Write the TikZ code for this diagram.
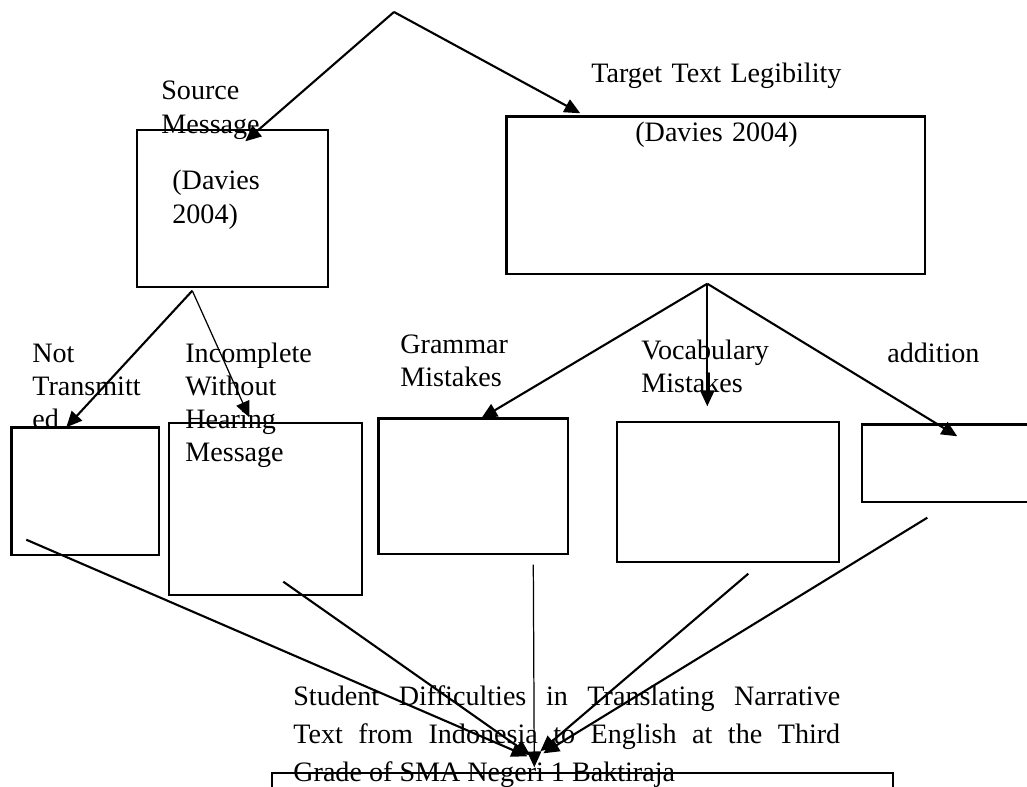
\documentclass[tikz,border=0pt]{standalone}
\usepackage{fontspec}
\setmainfont{Liberation Serif}
\usetikzlibrary{arrows.meta,fit,calc}
\begin{document}
\begin{tikzpicture}[x=0.02cm,y=-0.02cm,
  box/.style={draw,line width=0.8pt,inner sep=0pt,rectangle},
  heavyedge/.style={line width=1.7pt},
  conn/.style={line width=1.2pt,-{Triangle[length=9pt,width=8pt]}},
  thinconn/.style={line width=0.7pt,-{Triangle[length=9pt,width=8pt]}},
  lab/.style={inner sep=0pt,anchor=base west,align=left,text width=6cm,font=\fontsize{16}{18.8}\selectfont}]
\useasboundingbox (0,0) rectangle (1027,787);
\clip (0,0) rectangle (1027,787);

% boxes
\node[box,fit={(137,130)(328,287)}] (src) {};
\node[box,fit={(507,117)(925,274)}] (tgt) {};
\node[box,fit={(12,428)(159,555)}] (nt) {};
\node[box,fit={(169,423)(362,595)}] (inc) {};
\node[box,fit={(379,419)(568,554)}] (gram) {};
\node[box,fit={(617,422)(839,562)}] (voc) {};
\node[box,fit={(862,425)(1040,502)}] (add) {};
\node[box,fit={(272,773)(893,820)}] (bot) {};

% heavier (shadowed) edges
\draw[heavyedge] (tgt.south west) -- (tgt.north west) -- (tgt.north east);
\draw[heavyedge] (nt.south west) -- (nt.north west) -- (nt.north east);
\draw[heavyedge] (gram.south west) -- (gram.north west) -- (gram.north east);
\draw[heavyedge] (add.north west) -- (add.north east);

% labels
\node[lab] (srclab) at (161,100) {Source\\Message};
\node[lab] (srccite) at (172,190) {(Davies\\2004)};
\node[lab] (tgtlab) at (591,83) {Target Text Legibility};
\node[lab] (tgtcite) at (635,142) {(Davies 2004)};
\node[lab] (ntlab) at (32,362) {Not\\Transmitt\\ed};
\node[lab] (inclab) at (185,362) {Incomplete\\Without\\Hearing\\Message};
\node[lab] (gramlab) at (400,353) {Grammar\\Mistakes};
\node[lab] (voclab) at (641,359) {Vocabulary\\Mistakes};
\node[lab] (addlab) at (887,362) {addition};
\node[lab,text width=10.94cm,align=justify,font=\fontsize{16}{21.9}\selectfont] (botlab) at (293,705)
  {Student Difficulties in Translating Narrative\linebreak Text from Indonesia to English at the Third\linebreak Grade of SMA Negeri 1 Baktiraja};

% connection points
\coordinate (top) at (394,12);
\coordinate (srcIn) at ($(src.north west)+(109,12)$);
\coordinate (tgtIn) at ($(tgt.north west)+(74,-3)$);
\coordinate (srcOut) at ($(src.south west)+(56,3)$);
\coordinate (tgtOut) at ($(tgt.south west)+(201,9)$);
\coordinate (ntIn) at ($(nt.north west)+(55,0)$);
\coordinate (incIn) at ($(inc.north west)+(81,-5)$);
\coordinate (gramIn) at ($(gram.north west)+(103,0)$);
\coordinate (vocIn) at ($(voc.north west)+(91,-15)$);
\coordinate (addIn) at ($(add.north west)+(96,12)$);
\coordinate (ntOut) at ($(nt.south west)+(15,-16)$);
\coordinate (incOut) at ($(inc.south west)+(115,-14)$);
\coordinate (gramOut) at ($(gram.south west)+(155,10)$);
\coordinate (vocOut) at ($(voc.south west)+(132,11)$);
\coordinate (addOut) at ($(add.south west)+(66,15)$);
\coordinate (botA) at ($(bot.north west)+(256,-16)$);
\coordinate (botB) at ($(bot.north west)+(259,-17)$);
\coordinate (botC) at ($(bot.north west)+(263,-5)$);
\coordinate (botD) at ($(bot.north west)+(269,-21)$);
\coordinate (botE) at ($(bot.north west)+(272,-19)$);

% connectors
\draw[conn] (top) -- (srcIn);
\draw[conn] (top) -- (tgtIn);
\draw[conn] (srcOut) -- (ntIn);
\draw[thinconn] (srcOut) -- (incIn);
\draw[conn] (tgtOut) -- (gramIn);
\draw[conn] (tgtOut) -- (vocIn);
\draw[conn] (tgtOut) -- (addIn);
\draw[conn] (ntOut) -- (botA);
\draw[conn] (incOut) -- (botB);
\draw[thinconn] (gramOut) -- (botC);
\draw[conn] (vocOut) -- (botD);
\draw[conn] (addOut) -- (botE);
\end{tikzpicture}
\end{document}
